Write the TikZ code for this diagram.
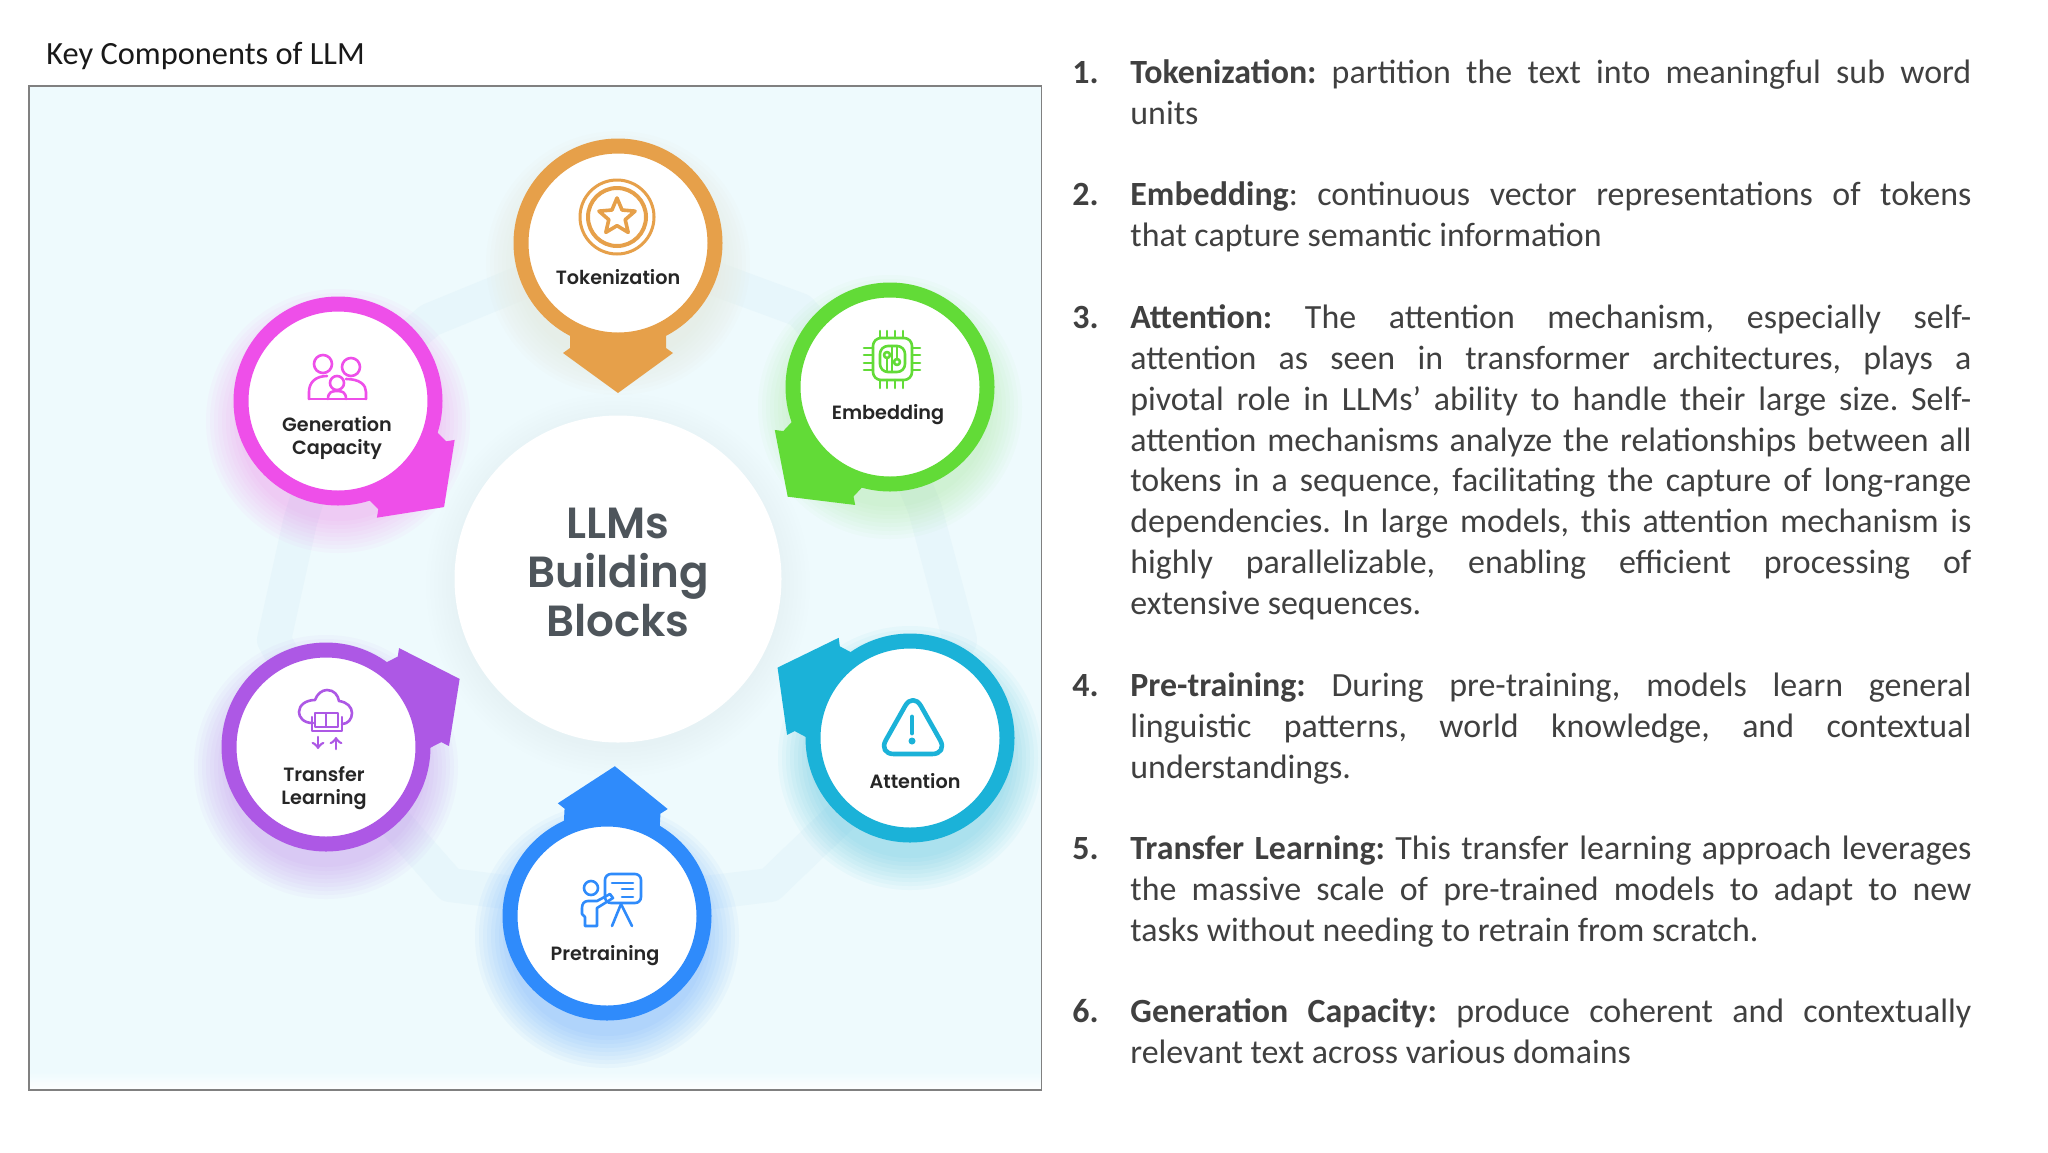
\documentclass[tikz,border=0pt]{standalone}
\usepackage{fontspec}
\setmainfont{Carlito}
\newfontfamily\popfont{Poppins SemiBold}
\usetikzlibrary{shapes.geometric}

\definecolor{panelbg}{HTML}{EEFAFD}
\definecolor{bandbg}{HTML}{E7F6FB}
\definecolor{tokcol}{HTML}{E6A04A}
\definecolor{embcol}{HTML}{62DB37}
\definecolor{attcol}{HTML}{1BB2D8}
\definecolor{precol}{HTML}{2F8BFB}
\definecolor{tracol}{HTML}{AD58E5}
\definecolor{gencol}{HTML}{EE4FE9}
\definecolor{hubtxt}{HTML}{4E555B}
\definecolor{bodytxt}{HTML}{404040}

\tikzset{
    ringnode/.style={circle, draw=#1, fill=white, line width=7.5pt, minimum size=97pt, inner sep=0pt},
    ringtext/.style={font=\popfont\fontsize{9.6}{11.6}\selectfont, text=black!85, align=center, inner sep=0pt},
    iconline/.style={draw=#1, line width=1.3pt, line join=round, line cap=round},
    itemnum/.style={anchor=base west, inner sep=0pt, text=bodytxt, font=\fontsize{16.95}{20.4}\selectfont\bfseries},
    itemtext/.style={anchor=north west, inner sep=0pt, text=bodytxt, text width=420.5pt, align=justify, font=\fontsize{16.95}{20.4}\selectfont\sloppy\frenchspacing}
}

% soft colour halo below a ring
\newcommand{\ringglow}[2]{\foreach \r in {100,104,...,132} \fill[#1, opacity=#2] (0,20) circle (\r);}
% arrow block of a ring, pointing at the hub
\newcommand{\ringarrow}[2]{\fill[#1, rotate=#2] (70,-48) -- (105,-48) -- (110,-55) -- (150,0) -- (110,55) -- (105,48) -- (70,48) -- cycle;}

\begin{document}
\begin{tikzpicture}[x=.5pt, y=-.5pt]

    \path[use as bounding box, fill=white] (0,0) rectangle (2048,1152);

    \node[anchor=base west, inner sep=0pt, text=black!90, font=\fontsize{16.2}{20.4}\selectfont] (title) at (46,64) {Key Components of LLM};

    % Panel
    \fill[panelbg] (29,86) rectangle (1041.5,1090);
    \shade[top color=panelbg, bottom color=white!92!panelbg] (29,1072) rectangle (1041.5,1090);
    \draw[draw=gray, line width=.6pt] (29,86) rectangle (1041.5,1090);

    % Pale band behind the rings
    \draw[bandbg, line width=17pt, line join=round] (618,243) -- (800,310) -- (880,400) -- (925,509) -- (960,640) -- (900,760) -- (770,885) -- (607,905) -- (450,885) -- (340,760) -- (274,640) -- (300,522) -- (337,400) -- (430,320) -- cycle;

    % Hub
    \foreach \r in {164,168,...,192} \fill[black, opacity=.004] (618,585) circle (\r);
    \node[circle, fill=white, minimum size=163.5pt, inner sep=0pt] (hub) at (618,579) {};
    \node[inner sep=0pt, text=hubtxt, align=center, font=\popfont\fontsize{21.8}{24.4}\selectfont] (hubtext) at (618,572.5) {LLMs\\Building\\Blocks};

    \begin{scope}[shift={(618,243)}]
        \ringglow{tokcol}{.012}
        \ringarrow{tokcol}{-90}
        \node[ringnode=tokcol] (tokenring) at (0,0) {};
        \node[ringtext] (tokenlabel) at (0,34) {Tokenization};
    \end{scope}
    \draw[iconline=tokcol, line width=1.5pt] (617,217) circle (37); % coin
    \draw[iconline=tokcol, line width=2pt] (617,217) circle (29);
    \node[star, star points=5, star point ratio=2.2, iconline=tokcol, line width=1.8pt, minimum size=19pt, inner sep=0pt] (tokenstar) at (617,217) {};

    \begin{scope}[shift={(890,387)}]
        \ringglow{embcol}{.022}
        \ringarrow{embcol}{-133}
        \node[ringnode=embcol] (embedring) at (0,0) {};
        \node[ringtext] (embedlabel) at (-2,28) {Embedding};
    \end{scope}
    \draw[iconline=embcol, rounded corners=4] (873,338) rectangle (912,380); % chip
    \draw[iconline=embcol, rounded corners=4] (880,346) rectangle (905,372);
    \foreach \p in {880,887,895,903} {
        \draw[iconline=embcol] (\p,331) -- (\p,338);
        \draw[iconline=embcol] (\p,380) -- (\p,388);
    }
    \foreach \p in {348,355,363,370} {
        \draw[iconline=embcol] (864,\p) -- (873,\p);
        \draw[iconline=embcol] (912,\p) -- (920,\p);
    }
    \draw[iconline=embcol] (887,358) -- (887,372) (897,359) -- (897,346) (892,346) -- (892,372);
    \draw[iconline=embcol] (887,355) circle (3) (897,362) circle (3);

    \begin{scope}[shift={(910,738)}]
        \ringglow{attcol}{.04}
        \ringarrow{attcol}{152}
        \node[ringnode=attcol] (attenring) at (0,0) {};
        \node[ringtext] (attenlabel) at (5,43) {Attention};
    \end{scope}
    \draw[iconline=attcol, line width=2.3pt, rounded corners=8] (913,692) -- (948,754) -- (878,754) -- cycle; % warning sign
    \draw[iconline=attcol, line width=2.4pt] (912,717) -- (912,733);
    \fill[attcol] (912,741) circle (3.5);

    \begin{scope}[shift={(607,916)}]
        \ringglow{precol}{.04}
        \ringarrow{precol}{87}
        \node[ringnode=precol] (pretrainring) at (0,0) {};
        \node[ringtext] (pretrainlabel) at (-2,40) {Pretraining};
    \end{scope}
    \draw[iconline=precol, rounded corners=3] (605,874) rectangle (641,903); % teacher and board
    \draw[iconline=precol] (612,883) -- (633,883) (622,889) -- (633,889) (622,897) -- (633,897);
    \draw[iconline=precol] (612,926) -- (621,904) -- (632,926);
    \draw[iconline=precol] (591,888) circle (7);
    \draw[iconline=precol] (585,926) -- (597,926) -- (597,908) -- (613,898) -- (610,894) -- (597,901) -- (588,901) .. controls (584,901) and (582,904) .. (582,908) -- (582,914) -- (585,917) -- cycle;

    \begin{scope}[shift={(326,747)}]
        \ringglow{tracol}{.035}
        \ringarrow{tracol}{27}
        \node[ringnode=tracol] (transring) at (0,0) {};
        \node[ringtext] (translabel) at (-2,41) {Transfer\\Learning};
    \end{scope}
    \draw[iconline=tracol] (313,723) .. controls (303,723) and (299,717) .. (299,712) .. controls (299,705) and (306,700) .. (315,700) .. controls (317,694) and (322,690) .. (327,690) .. controls (334,690) and (338,695) .. (339,701) .. controls (347,702) and (352,707) .. (352,713) .. controls (352,719) and (348,724) .. (342,724); % cloud
    \draw[iconline=tracol, line width=1.1pt] (315,713) rectangle (326,727) (326,713) rectangle (338,727);
    \draw[iconline=tracol, line width=1.1pt] (312,717) -- (312,731) -- (342,731) -- (342,717);
    \draw[iconline=tracol, ->] (318,737) -- (318,749);
    \draw[iconline=tracol, ->] (336,749) -- (336,737);

    \begin{scope}[shift={(338,401)}]
        \ringglow{gencol}{.03}
        \ringarrow{gencol}{-45}
        \node[ringnode=gencol] (genring) at (0,0) {};
        \node[ringtext] (genlabel) at (-1,37) {Generation\\Capacity};
    \end{scope}
    \draw[iconline=gencol] (323,364) circle (9) (351,367) circle (9) (337,383) circle (7); % family
    \draw[iconline=gencol] (309,399) -- (366,399);
    \draw[iconline=gencol] (309,399) -- (309,392) .. controls (309,382) and (316,376) .. (327,376);
    \draw[iconline=gencol] (366,399) -- (366,392) .. controls (366,385) and (360,379) .. (346,379);
    \draw[iconline=gencol] (328,399) .. controls (328,392) and (332,391) .. (337,391) .. controls (342,391) and (346,392) .. (346,399);

    % Item list
    \node[itemnum] (num1) at (1072,83.3) {1.};
    \node[itemtext] (item1) at (1130,54.7) {\strut\textbf{Tokenization:} partition the text into meaningful sub word\linebreak units};
    \node[itemnum] (num2) at (1072,205.3) {2.};
    \node[itemtext] (item2) at (1130,176.7) {\strut\textbf{Embedding}: continuous vector representations of tokens\linebreak that capture semantic information};
    \node[itemnum] (num3) at (1072,328.3) {3.};
    \node[itemtext] (item3) at (1130,299.7) {\strut\textbf{Attention:} The attention mechanism, especially self-\linebreak attention as seen in transformer architectures, plays a\linebreak pivotal role in LLMs’ ability to handle their large size. Self-\linebreak attention mechanisms analyze the relationships between all\linebreak tokens in a sequence, facilitating the capture of long-range\linebreak dependencies. In large models, this attention mechanism is\linebreak highly parallelizable, enabling efficient processing of\linebreak extensive sequences.};
    \node[itemnum] (num4) at (1072,696.3) {4.};
    \node[itemtext] (item4) at (1130,667.7) {\strut\textbf{Pre-training:} During pre-training, models learn general\linebreak linguistic patterns, world knowledge, and contextual\linebreak understandings.};
    \node[itemnum] (num5) at (1072,859.3) {5.};
    \node[itemtext] (item5) at (1130,830.7) {\strut\textbf{Transfer Learning:} This transfer learning approach leverages\linebreak the massive scale of pre-trained models to adapt to new\linebreak tasks without needing to retrain from scratch.};
    \node[itemnum] (num6) at (1072,1022.3) {6.};
    \node[itemtext] (item6) at (1130,993.7) {\strut\textbf{Generation Capacity:} produce coherent and contextually\linebreak relevant text across various domains};

\end{tikzpicture}
\end{document}
